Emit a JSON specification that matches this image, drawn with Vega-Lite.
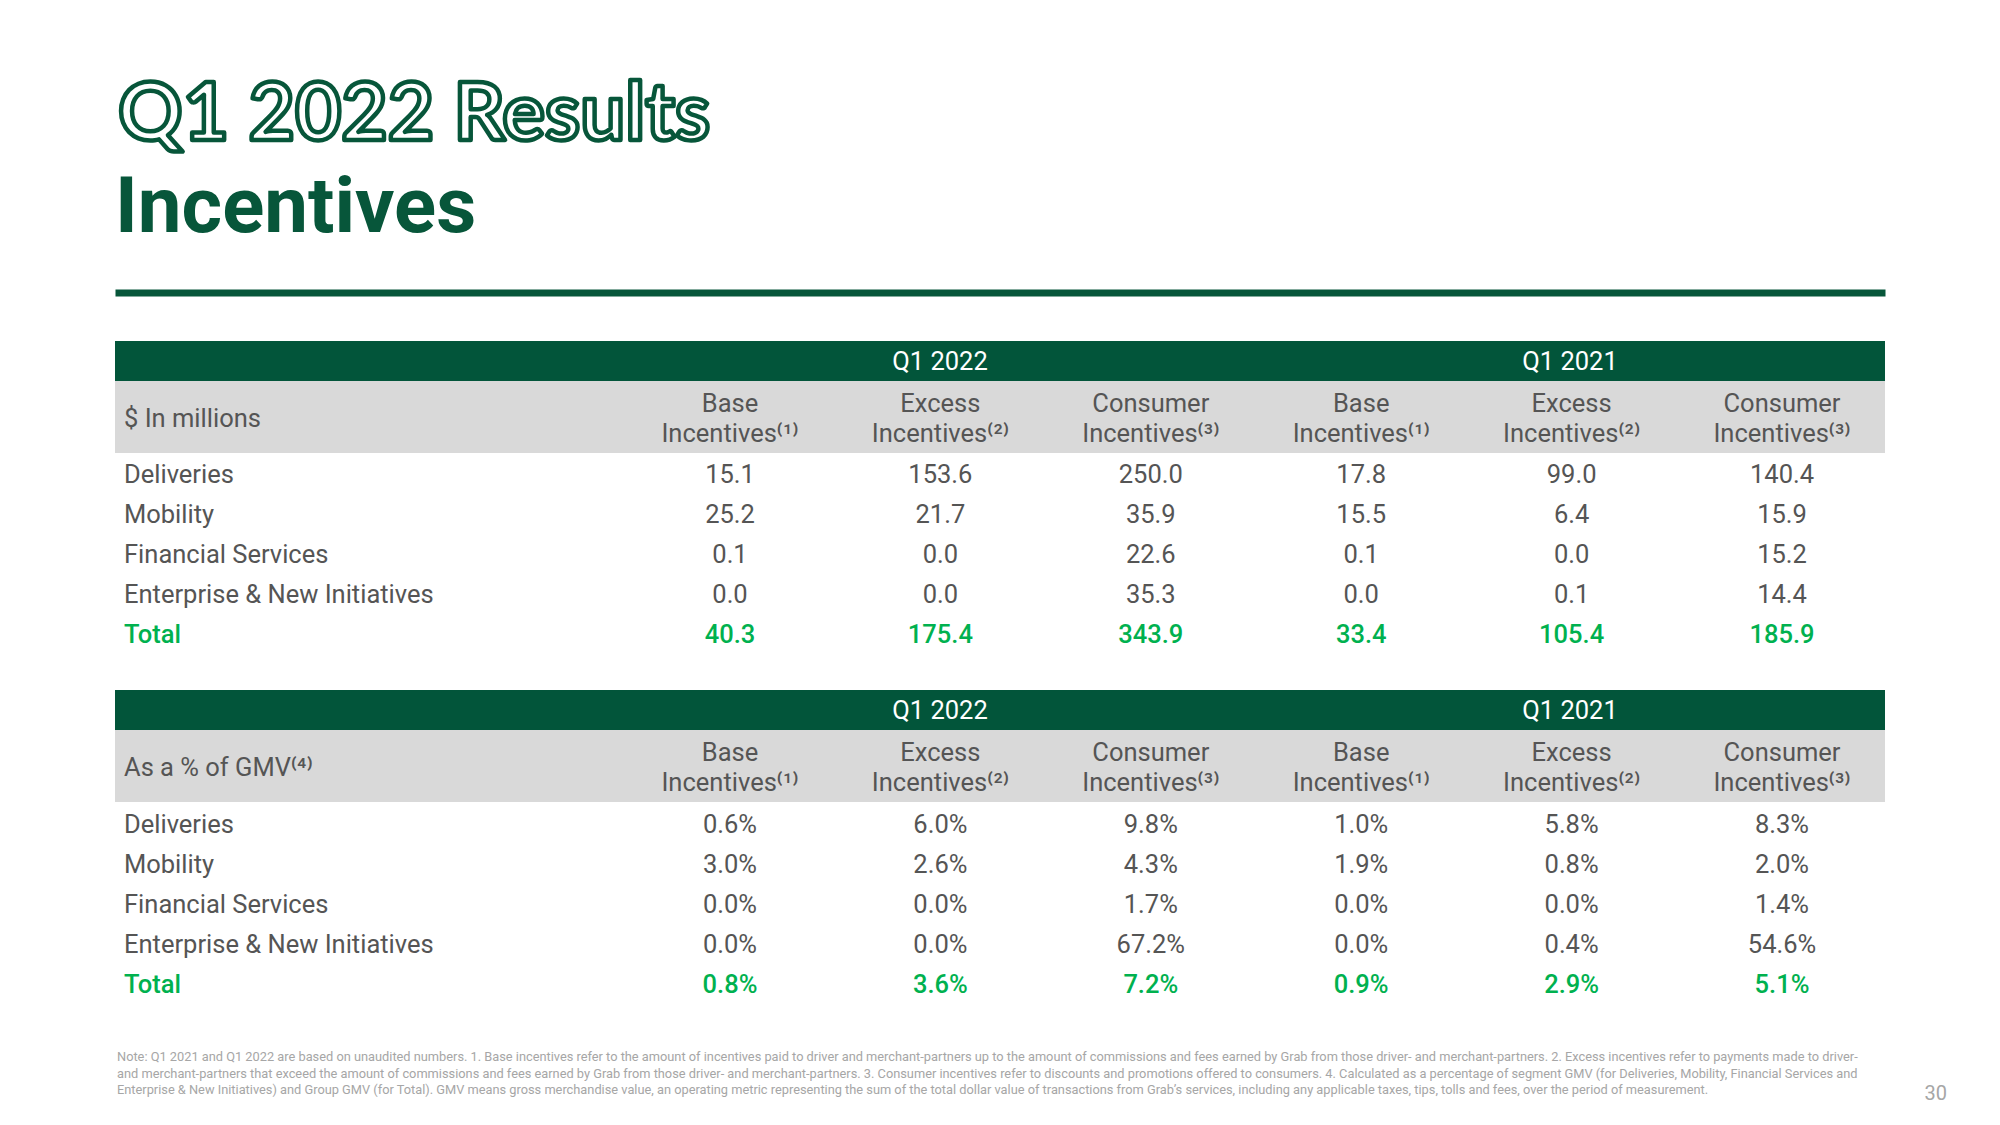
{
  "$schema": "https://vega.github.io/schema/vega-lite/v6.json",
  "background": "#ffffff",
  "padding": {"left": 115, "top": 0, "right": 0, "bottom": 0},
  "config": {"view": {"stroke": null}, "text": {"font": "Roboto"}},
  "datasets": {
    "usd": [
      {"segment": "Deliveries", "Q1 2022 Base": 15.1, "Q1 2022 Excess": 153.6, "Q1 2022 Consumer": 250.0, "Q1 2021 Base": 17.8, "Q1 2021 Excess": 99.0, "Q1 2021 Consumer": 140.4},
      {"segment": "Mobility", "Q1 2022 Base": 25.2, "Q1 2022 Excess": 21.7, "Q1 2022 Consumer": 35.9, "Q1 2021 Base": 15.5, "Q1 2021 Excess": 6.4, "Q1 2021 Consumer": 15.9},
      {"segment": "Financial Services", "Q1 2022 Base": 0.1, "Q1 2022 Excess": 0.0, "Q1 2022 Consumer": 22.6, "Q1 2021 Base": 0.1, "Q1 2021 Excess": 0.0, "Q1 2021 Consumer": 15.2},
      {"segment": "Enterprise & New Initiatives", "Q1 2022 Base": 0.0, "Q1 2022 Excess": 0.0, "Q1 2022 Consumer": 35.3, "Q1 2021 Base": 0.0, "Q1 2021 Excess": 0.1, "Q1 2021 Consumer": 14.4},
      {"segment": "Total", "Q1 2022 Base": 40.3, "Q1 2022 Excess": 175.4, "Q1 2022 Consumer": 343.9, "Q1 2021 Base": 33.4, "Q1 2021 Excess": 105.4, "Q1 2021 Consumer": 185.9}
    ],
    "pct": [
      {"segment": "Deliveries", "Q1 2022 Base": 0.006, "Q1 2022 Excess": 0.060, "Q1 2022 Consumer": 0.098, "Q1 2021 Base": 0.010, "Q1 2021 Excess": 0.058, "Q1 2021 Consumer": 0.083},
      {"segment": "Mobility", "Q1 2022 Base": 0.030, "Q1 2022 Excess": 0.026, "Q1 2022 Consumer": 0.043, "Q1 2021 Base": 0.019, "Q1 2021 Excess": 0.008, "Q1 2021 Consumer": 0.020},
      {"segment": "Financial Services", "Q1 2022 Base": 0.000, "Q1 2022 Excess": 0.000, "Q1 2022 Consumer": 0.017, "Q1 2021 Base": 0.000, "Q1 2021 Excess": 0.000, "Q1 2021 Consumer": 0.014},
      {"segment": "Enterprise & New Initiatives", "Q1 2022 Base": 0.000, "Q1 2022 Excess": 0.000, "Q1 2022 Consumer": 0.672, "Q1 2021 Base": 0.000, "Q1 2021 Excess": 0.004, "Q1 2021 Consumer": 0.546},
      {"segment": "Total", "Q1 2022 Base": 0.008, "Q1 2022 Excess": 0.036, "Q1 2022 Consumer": 0.072, "Q1 2021 Base": 0.009, "Q1 2021 Excess": 0.029, "Q1 2021 Consumer": 0.051}
    ],
    "colheads": [
      {"col": "Q1 2022 Base", "label": "Base\nIncentives⁽¹⁾"},
      {"col": "Q1 2022 Excess", "label": "Excess\nIncentives⁽²⁾"},
      {"col": "Q1 2022 Consumer", "label": "Consumer\nIncentives⁽³⁾"},
      {"col": "Q1 2021 Base", "label": "Base\nIncentives⁽¹⁾"},
      {"col": "Q1 2021 Excess", "label": "Excess\nIncentives⁽²⁾"},
      {"col": "Q1 2021 Consumer", "label": "Consumer\nIncentives⁽³⁾"}
    ],
    "periods": [{"period": "Q1 2022"}, {"period": "Q1 2021"}],
    "notes": [
      {"line": 1, "text": "Note: Q1 2021 and Q1 2022 are based on unaudited numbers. 1. Base incentives refer to the amount of incentives paid to driver and merchant-partners up to the amount of commissions and fees earned by Grab from those driver- and merchant-partners. 2. Excess incentives refer to payments made to driver-"},
      {"line": 2, "text": "and merchant-partners that exceed the amount of commissions and fees earned by Grab from those driver- and merchant-partners. 3. Consumer incentives refer to discounts and promotions offered to consumers. 4. Calculated as a percentage of segment GMV (for Deliveries, Mobility, Financial Services and"},
      {"line": 3, "text": "Enterprise & New Initiatives) and Group GMV (for Total). GMV means gross merchandise value, an operating metric representing the sum of the total dollar value of transactions from Grab’s services, including any applicable taxes, tips, tolls and fees, over the period of measurement."}
    ]
  },
  "spacing": 37,
  "vconcat": [
    {
      "width": 1770, "height": 304,
      "data": {"values": [{"line": "Q1 2022 Results"}, {"line": "Incentives"}]},
      "encoding": {
        "x": {"datum": 0, "type": "quantitative", "scale": {"domain": [0, 1]}, "axis": {"domain": true, "domainColor": "#07563A", "domainWidth": 7, "offset": -11.5, "labels": false, "ticks": false, "grid": false, "title": null}},
        "y": {"field": "line", "type": "nominal", "scale": {"type": "point", "domain": ["Q1 2022 Results", "Incentives"], "range": [140, 232], "padding": 0}, "axis": null},
        "text": {"field": "line"}
      },
      "layer": [
        {"transform": [{"filter": "datum.line === 'Q1 2022 Results'"}], "mark": {"type": "text", "align": "left", "baseline": "alphabetic", "dx": 3, "font": "Lato", "fontSize": 80, "fontWeight": "bold", "fill": "#ffffff", "stroke": "#07563A", "strokeWidth": 4.5, "strokeJoin": "round"}},
        {"transform": [{"filter": "datum.line === 'Incentives'"}], "mark": {"type": "text", "align": "left", "baseline": "alphabetic", "font": "Roboto", "fontSize": 78, "fontWeight": "bold", "color": "#07563A"}}
      ]
    },
    {
      "spacing": 0,
      "vconcat": [
        {
          "width": 1770, "height": 40,
          "view": {"fill": "#02553A", "stroke": null},
          "data": {"name": "periods"},
          "mark": {"type": "text", "fontSize": 25.5, "color": "#ffffff", "baseline": "middle", "dy": 1},
          "encoding": {
            "x": {"field": "period", "type": "nominal", "scale": {"type": "point", "domain": ["Q1 2022", "Q1 2021"], "padding": 0.90476, "align": 0.72368}, "axis": null},
            "text": {"field": "period"}
          }
        },
        {
          "width": 1770, "height": 72,
          "view": {"fill": "#D9D9D9", "stroke": null},
          "layer": [
            {"data": {"values": [{"t": "$ In millions"}]}, "mark": {"type": "text", "align": "left", "baseline": "middle", "dx": 9, "dy": 1.5, "fontSize": 25.5, "color": "#555555"},
             "encoding": {"x": {"datum": 0, "type": "quantitative", "scale": {"domain": [0, 1]}, "axis": null}, "text": {"field": "t"}}},
            {"data": {"name": "colheads"}, "mark": {"type": "text", "align": "center", "baseline": "middle", "dy": -13, "fontSize": 25.5, "lineHeight": 30, "lineBreak": "\n", "color": "#555555"},
             "encoding": {"x": {"field": "col", "type": "nominal", "scale": {"type": "point", "domain": ["Q1 2022 Base", "Q1 2022 Excess", "Q1 2022 Consumer", "Q1 2021 Base", "Q1 2021 Excess", "Q1 2021 Consumer"], "range": [615, 1667], "padding": 0}, "axis": null}, "text": {"field": "label"}}}
          ],
          "resolve": {"scale": {"x": "independent"}}
        },
        {
          "width": 1770, "height": 200,
          "data": {"name": "usd"},
          "encoding": {"y": {"field": "segment", "type": "nominal", "scale": {"type": "point", "domain": ["Deliveries", "Mobility", "Financial Services", "Enterprise & New Initiatives", "Total"]}, "axis": null}},
          "layer": [
            {"transform": [{"filter": "datum.segment !== 'Total'"}], "mark": {"type": "text", "align": "left", "baseline": "middle", "dx": 9, "dy": 1.5, "fontSize": 25.5, "color": "#555555"},
             "encoding": {"x": {"datum": 0, "type": "quantitative", "scale": {"domain": [0, 1]}, "axis": null}, "text": {"field": "segment"}}},
            {"transform": [{"filter": "datum.segment === 'Total'"}], "mark": {"type": "text", "align": "left", "baseline": "middle", "dx": 9, "dy": 1.5, "fontSize": 25.5, "fontWeight": 500, "color": "#00B14F"},
             "encoding": {"x": {"datum": 0, "type": "quantitative", "scale": {"domain": [0, 1]}, "axis": null}, "text": {"field": "segment"}}},
            {"transform": [{"filter": "datum.segment !== 'Total'"}, {"fold": ["Q1 2022 Base", "Q1 2022 Excess", "Q1 2022 Consumer", "Q1 2021 Base", "Q1 2021 Excess", "Q1 2021 Consumer"], "as": ["col", "value"]}],
             "mark": {"type": "text", "align": "center", "baseline": "middle", "dy": 1.5, "fontSize": 25.5, "color": "#555555"},
             "encoding": {"x": {"field": "col", "type": "nominal", "scale": {"type": "point", "domain": ["Q1 2022 Base", "Q1 2022 Excess", "Q1 2022 Consumer", "Q1 2021 Base", "Q1 2021 Excess", "Q1 2021 Consumer"], "range": [615, 1667], "padding": 0}, "axis": null}, "text": {"field": "value", "type": "quantitative", "format": ".1f"}}},
            {"transform": [{"filter": "datum.segment === 'Total'"}, {"fold": ["Q1 2022 Base", "Q1 2022 Excess", "Q1 2022 Consumer", "Q1 2021 Base", "Q1 2021 Excess", "Q1 2021 Consumer"], "as": ["col", "value"]}],
             "mark": {"type": "text", "align": "center", "baseline": "middle", "dy": 1.5, "fontSize": 25.5, "fontWeight": 500, "color": "#00B14F"},
             "encoding": {"x": {"field": "col", "type": "nominal", "scale": {"type": "point", "domain": ["Q1 2022 Base", "Q1 2022 Excess", "Q1 2022 Consumer", "Q1 2021 Base", "Q1 2021 Excess", "Q1 2021 Consumer"], "range": [615, 1667], "padding": 0}, "axis": null}, "text": {"field": "value", "type": "quantitative", "format": ".1f"}}}
          ],
          "resolve": {"scale": {"x": "independent"}}
        }
      ]
    },
    {
      "spacing": 0,
      "vconcat": [
        {
          "width": 1770, "height": 40,
          "view": {"fill": "#02553A", "stroke": null},
          "data": {"name": "periods"},
          "mark": {"type": "text", "fontSize": 25.5, "color": "#ffffff", "baseline": "middle", "dy": 1},
          "encoding": {
            "x": {"field": "period", "type": "nominal", "scale": {"type": "point", "domain": ["Q1 2022", "Q1 2021"], "padding": 0.90476, "align": 0.72368}, "axis": null},
            "text": {"field": "period"}
          }
        },
        {
          "width": 1770, "height": 72,
          "view": {"fill": "#D9D9D9", "stroke": null},
          "layer": [
            {"data": {"values": [{"t": "As a % of GMV⁽⁴⁾"}]}, "mark": {"type": "text", "align": "left", "baseline": "middle", "dx": 9, "dy": 1.5, "fontSize": 25.5, "color": "#555555"},
             "encoding": {"x": {"datum": 0, "type": "quantitative", "scale": {"domain": [0, 1]}, "axis": null}, "text": {"field": "t"}}},
            {"data": {"name": "colheads"}, "mark": {"type": "text", "align": "center", "baseline": "middle", "dy": -13, "fontSize": 25.5, "lineHeight": 30, "lineBreak": "\n", "color": "#555555"},
             "encoding": {"x": {"field": "col", "type": "nominal", "scale": {"type": "point", "domain": ["Q1 2022 Base", "Q1 2022 Excess", "Q1 2022 Consumer", "Q1 2021 Base", "Q1 2021 Excess", "Q1 2021 Consumer"], "range": [615, 1667], "padding": 0}, "axis": null}, "text": {"field": "label"}}}
          ],
          "resolve": {"scale": {"x": "independent"}}
        },
        {
          "width": 1770, "height": 200,
          "data": {"name": "pct"},
          "encoding": {"y": {"field": "segment", "type": "nominal", "scale": {"type": "point", "domain": ["Deliveries", "Mobility", "Financial Services", "Enterprise & New Initiatives", "Total"]}, "axis": null}},
          "layer": [
            {"transform": [{"filter": "datum.segment !== 'Total'"}], "mark": {"type": "text", "align": "left", "baseline": "middle", "dx": 9, "dy": 3, "fontSize": 25.5, "color": "#555555"},
             "encoding": {"x": {"datum": 0, "type": "quantitative", "scale": {"domain": [0, 1]}, "axis": null}, "text": {"field": "segment"}}},
            {"transform": [{"filter": "datum.segment === 'Total'"}], "mark": {"type": "text", "align": "left", "baseline": "middle", "dx": 9, "dy": 3, "fontSize": 25.5, "fontWeight": 500, "color": "#00B14F"},
             "encoding": {"x": {"datum": 0, "type": "quantitative", "scale": {"domain": [0, 1]}, "axis": null}, "text": {"field": "segment"}}},
            {"transform": [{"filter": "datum.segment !== 'Total'"}, {"fold": ["Q1 2022 Base", "Q1 2022 Excess", "Q1 2022 Consumer", "Q1 2021 Base", "Q1 2021 Excess", "Q1 2021 Consumer"], "as": ["col", "value"]}],
             "mark": {"type": "text", "align": "center", "baseline": "middle", "dy": 3, "fontSize": 25.5, "color": "#555555"},
             "encoding": {"x": {"field": "col", "type": "nominal", "scale": {"type": "point", "domain": ["Q1 2022 Base", "Q1 2022 Excess", "Q1 2022 Consumer", "Q1 2021 Base", "Q1 2021 Excess", "Q1 2021 Consumer"], "range": [615, 1667], "padding": 0}, "axis": null}, "text": {"field": "value", "type": "quantitative", "format": ".1%"}}},
            {"transform": [{"filter": "datum.segment === 'Total'"}, {"fold": ["Q1 2022 Base", "Q1 2022 Excess", "Q1 2022 Consumer", "Q1 2021 Base", "Q1 2021 Excess", "Q1 2021 Consumer"], "as": ["col", "value"]}],
             "mark": {"type": "text", "align": "center", "baseline": "middle", "dy": 3, "fontSize": 25.5, "fontWeight": 500, "color": "#00B14F"},
             "encoding": {"x": {"field": "col", "type": "nominal", "scale": {"type": "point", "domain": ["Q1 2022 Base", "Q1 2022 Excess", "Q1 2022 Consumer", "Q1 2021 Base", "Q1 2021 Excess", "Q1 2021 Consumer"], "range": [615, 1667], "padding": 0}, "axis": null}, "text": {"field": "value", "type": "quantitative", "format": ".1%"}}}
          ],
          "resolve": {"scale": {"x": "independent"}}
        }
      ]
    },
    {
      "width": 1832, "height": 70,
      "layer": [
        {"data": {"name": "notes"}, "mark": {"type": "text", "align": "left", "baseline": "middle", "dx": 2, "dy": 1, "fontSize": 12.8, "color": "#A6A6A6"},
         "encoding": {
           "x": {"datum": 0, "type": "quantitative", "scale": {"domain": [0, 1]}, "axis": null},
           "y": {"field": "line", "type": "ordinal", "scale": {"type": "point", "domain": [1, 2, 3], "range": [17, 50], "padding": 0}, "axis": null},
           "text": {"field": "text"}}},
        {"data": {"values": [{"page": "30"}]}, "mark": {"type": "text", "align": "right", "baseline": "middle", "dy": 5, "fontSize": 20, "color": "#A6A6A6"},
         "encoding": {
           "x": {"datum": 1, "type": "quantitative", "scale": {"domain": [0, 1]}, "axis": null},
           "y": {"datum": 3, "type": "ordinal", "scale": {"type": "point", "domain": [1, 2, 3], "range": [17, 50], "padding": 0}, "axis": null},
           "text": {"field": "page"}}}
      ]
    }
  ]
}
